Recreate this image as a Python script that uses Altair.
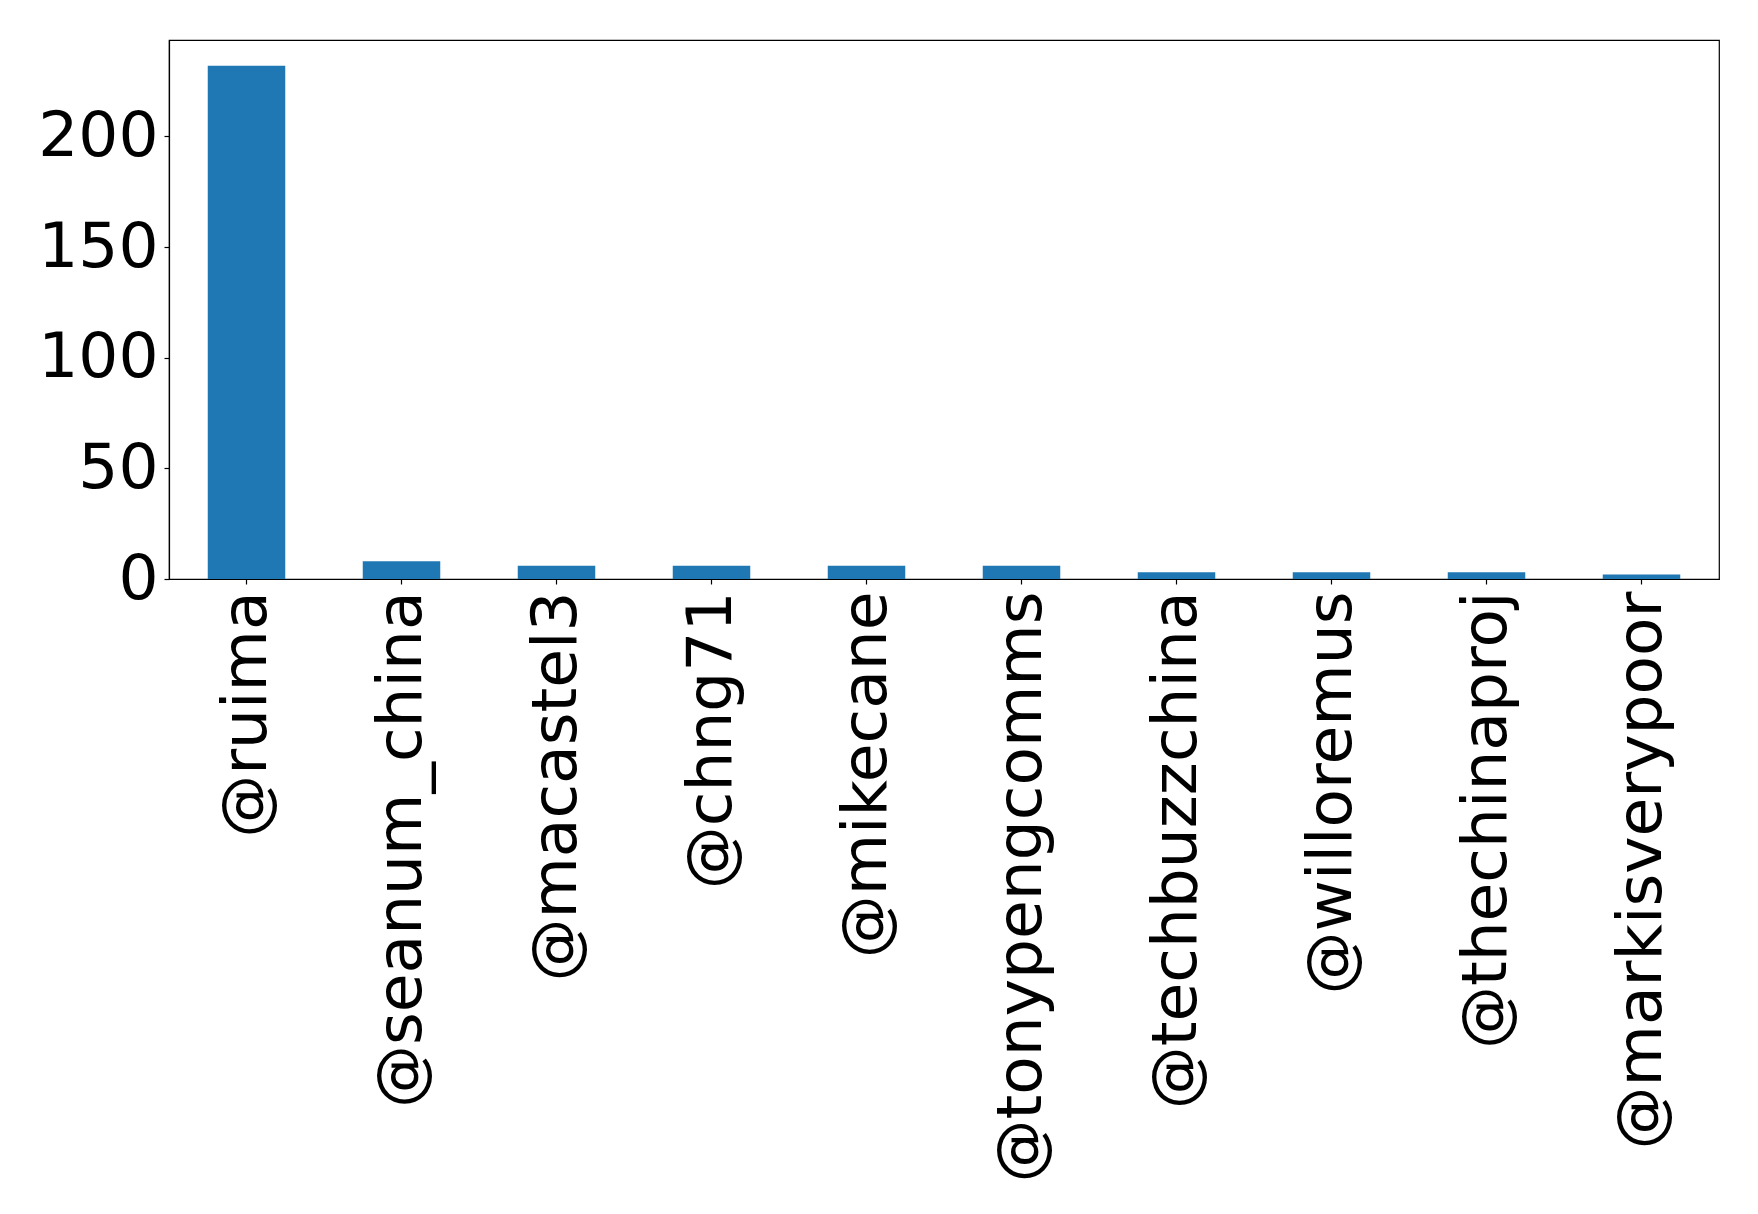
import altair as alt
import pandas as pd

users = ["@ruima", "@seanum_china", "@macastel3", "@chng71", "@mikecane",
         "@tonypengcomms", "@techbuzzchina", "@willoremus", "@thechinaproj",
         "@markisverypoor"]
counts = [232, 8, 6, 6, 6, 6, 3, 3, 3, 2]

df = pd.DataFrame({"user": users, "count": counts})

chart = alt.Chart(df).mark_bar(color="#1f77b4").encode(
    x=alt.X("user:N", sort=users, title=None,
            scale=alt.Scale(paddingInner=0.5, paddingOuter=0.25),
            axis=alt.Axis(labelAngle=270, labelFontSize=63, labelFont="DejaVu Sans",
                          labelColor="black", tickColor="black", domainColor="black",
                          tickSize=5, labelPadding=7, labelLimit=0)),
    y=alt.Y("count:Q", title=None,
            scale=alt.Scale(domain=[0, 243.6], nice=False, zero=True),
            axis=alt.Axis(values=[0, 50, 100, 150, 200], grid=False,
                          labelFontSize=63, labelFont="DejaVu Sans",
                          labelColor="black", tickColor="black", domainColor="black",
                          tickSize=5, labelPadding=6)),
).properties(
    width=1550, height=539,
    autosize=alt.AutoSizeParams(type="none"),
    padding={"left": 161, "top": 32, "right": 31, "bottom": 627},
).configure_view(stroke="black", strokeWidth=1.2).configure_axis(domainWidth=1.2, tickWidth=1.2)

chart.save("out.html", embed_options={"renderer": "svg", "actions": False})
